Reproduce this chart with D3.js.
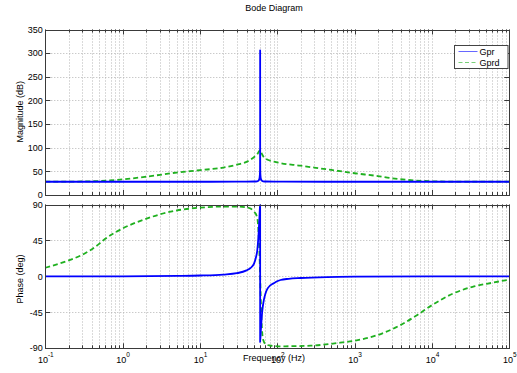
<!DOCTYPE html>
<html>
<head>
<meta charset="utf-8">
<script src="https://cdn.jsdelivr.net/npm/d3@7"></script>
<style>
  body { margin: 0; background: #fff; }
  svg text { font-family: "Liberation Sans", Arial, sans-serif; font-size: 9px; fill: #000; }
</style>
</head>
<body>
<svg id="chart" width="517" height="373"></svg>
<script>
// ---- data ---------------------------------------------------------------
const titleText = "Bode Diagram";
const seriesNames = ["Gpr", "Gprd"];
const decadeTicks = [0.1, 1, 10, 100, 1000, 10000, 100000];
const decadeExponents = ["-1", "0", "1", "2", "3", "4", "5"];
const magTicks = [0, 50, 100, 150, 200, 250, 300, 350];
const phaseTicks = [-90, -45, 0, 45, 90];

// [frequency (Hz), magnitude (dB)]
const gprMag = [
  [0.1, 28], [10, 28], [30, 28.1], [50, 28.5], [55, 29], [57.5, 31], [59, 36],
  [59.8, 50], [59.97, 100], [60, 306], [60.03, 100], [60.2, 50], [61, 36],
  [62.6, 31], [65.5, 29], [72, 28.5], [120, 28.1], [400, 28], [100000, 28]
];
const gprdMag = [
  [0.1, 28.1], [0.2, 28.3], [0.5, 29.5], [1, 33], [2, 38.6], [5, 47.5],
  [10, 52.5], [20, 58], [30, 64], [40, 70], [50, 80], [56, 88], [60, 95],
  [64, 85], [70, 77], [100, 69], [200, 62], [500, 53], [1000, 46],
  [2000, 40], [3000, 35.5], [5000, 31.7], [10000, 29], [20000, 28.3],
  [100000, 28.1]
];

// [frequency (Hz), phase (deg)]
const gprPhase = [
  [0.1, 0], [1, 0.1], [5, 0.6], [10, 1.1], [20, 2.3], [30, 4], [40, 7.5],
  [45, 10.5], [50, 16], [53, 24], [55, 32], [57, 50], [58.5, 70], [59.5, 85],
  [60, 90], [60.02, -82], [61, -70], [62.5, -55], [64, -43], [66, -33],
  [70, -22], [75, -15], [90, -8.5], [110, -4.5], [140, -3], [200, -2],
  [440, -0.8], [1000, -0.35], [10000, 0], [100000, 0]
];
const gprdPhase = [
  [0.1, 10.8], [0.2, 20], [0.3, 27], [0.5, 41], [0.56, 45], [1, 60],
  [2, 72], [3, 77.5], [5, 82.5], [10, 86], [20, 87.5], [30, 87.5],
  [40, 86.5], [45, 85], [50, 81], [54, 76], [56, 68], [57.5, 50], [59, 25],
  [60, 0], [61, -25], [62.5, -55], [64, -72], [66, -80], [70, -84.5],
  [80, -86.5], [110, -87.5], [270, -86.7], [650, -83], [1060, -80],
  [1900, -74], [3900, -61], [6300, -49], [10000, -36], [18500, -21.7],
  [33500, -13], [60000, -8], [100000, -4]
];

// ---- layout -------------------------------------------------------------
const svg = d3.select("#chart");
const left = 45.3, right = 509.3;
const magPanel = { top: 29.5, bottom: 195 };
const phasePanel = { top: 204.5, bottom: 348.3 };

const x = d3.scaleLog().domain([0.1, 100000]).range([left, right]);
const yMag = d3.scaleLinear().domain([0, 350]).range([magPanel.bottom, magPanel.top]);
const yPhase = d3.scaleLinear().domain([-90, 90]).range([phasePanel.bottom, phasePanel.top]);

const blue = "#0000ff";
const green = "#1fb01f";
const gridColor = "#b4b4b4";
const boxColor = "#3a3a3a";

// minor tick positions 2..9 within each decade
const minorTicks = [];
decadeTicks.slice(0, -1).forEach(d => {
  for (let k = 2; k <= 9; k++) minorTicks.push(d * k);
});

function drawPanel(panel, yScale, yTicks, name, seriesPairs) {
  const g = svg.append("g");
  const h = panel.bottom - panel.top;

  g.append("clipPath").attr("id", "clip-" + name)
    .append("rect").attr("x", left).attr("y", panel.top)
    .attr("width", right - left).attr("height", h);

  // grid: vertical (minor + major) and horizontal
  g.append("g").selectAll("line").data(minorTicks.concat(decadeTicks)).join("line")
    .attr("x1", d => Math.round(x(d)) + 0.5).attr("x2", d => Math.round(x(d)) + 0.5)
    .attr("y1", panel.top).attr("y2", panel.bottom)
    .attr("stroke", gridColor).attr("stroke-width", 1)
    .attr("stroke-dasharray", "1,2");
  g.append("g").selectAll("line").data(yTicks).join("line")
    .attr("x1", left).attr("x2", right)
    .attr("y1", d => Math.round(yScale(d)) + 0.5).attr("y2", d => Math.round(yScale(d)) + 0.5)
    .attr("stroke", gridColor).attr("stroke-width", 1)
    .attr("stroke-dasharray", "1,2");

  // inward tick marks on all four sides
  const tg = g.append("g").attr("stroke", boxColor).attr("stroke-width", 1);
  const xt = decadeTicks.map(d => ({ v: d, len: 5 })).concat(minorTicks.map(d => ({ v: d, len: 3 })));
  xt.forEach(t => {
    const px = Math.round(x(t.v)) + 0.5;
    tg.append("line").attr("x1", px).attr("x2", px).attr("y1", panel.bottom).attr("y2", panel.bottom - t.len);
    tg.append("line").attr("x1", px).attr("x2", px).attr("y1", panel.top).attr("y2", panel.top + t.len);
  });
  yTicks.forEach(v => {
    const py = Math.round(yScale(v)) + 0.5;
    tg.append("line").attr("x1", left).attr("x2", left + 5).attr("y1", py).attr("y2", py);
    tg.append("line").attr("x1", right).attr("x2", right - 5).attr("y1", py).attr("y2", py);
  });

  // y tick labels
  g.append("g").selectAll("text").data(yTicks).join("text")
    .attr("x", left - 2.5).attr("y", d => yScale(d)).attr("dy", "0.35em")
    .attr("text-anchor", "end").text(d => d);

  // series
  const line = d3.line()
    .x(d => x(d[0])).y(d => yScale(d[1]))
    .curve(d3.curveMonotoneX);
  const lg = g.append("g").attr("clip-path", "url(#clip-" + name + ")");
  lg.append("path").datum(seriesPairs[1])
    .attr("d", line).attr("fill", "none")
    .attr("stroke", green).attr("stroke-width", 1.8)
    .attr("stroke-dasharray", "5,3");
  lg.append("path").datum(seriesPairs[0])
    .attr("d", line).attr("fill", "none")
    .attr("stroke", blue).attr("stroke-width", 1.8)
    .attr("stroke-linejoin", "round");

  // axes box
  g.append("rect")
    .attr("x", Math.round(left) + 0.5).attr("y", Math.round(panel.top) + 0.5)
    .attr("width", Math.round(right) - Math.round(left))
    .attr("height", Math.round(panel.bottom) - Math.round(panel.top))
    .attr("fill", "none").attr("stroke", boxColor).attr("stroke-width", 1);
  return g;
}

drawPanel(magPanel, yMag, magTicks, "mag", [gprMag, gprdMag]);
drawPanel(phasePanel, yPhase, phaseTicks, "phase", [gprPhase, gprdPhase]);

// x tick labels (powers of ten) under the phase panel
const xl = svg.append("g").selectAll("text").data(decadeTicks).join("text")
  .attr("x", d => x(d) + 0.5).attr("y", 362.7).attr("text-anchor", "middle");
xl.append("tspan").text("10");
xl.append("tspan").attr("dy", -5.5).attr("font-size", "6.5px").text((d, i) => decadeExponents[i]);

// titles
svg.append("text").attr("x", 274).attr("y", 10.5).attr("text-anchor", "middle").text(titleText);
svg.append("text").attr("x", 274).attr("y", 361).attr("text-anchor", "middle").text("Frequency  (Hz)");
svg.append("text").attr("transform", "translate(23,111.7) rotate(-90)")
  .attr("text-anchor", "middle").text("Magnitude (dB)");
svg.append("text").attr("transform", "translate(23,279) rotate(-90)")
  .attr("text-anchor", "middle").text("Phase (deg)");

// legend
const legend = svg.append("g");
legend.append("rect").attr("x", 454.5).attr("y", 45.5).attr("width", 53.5).attr("height", 23)
  .attr("fill", "#fff").attr("stroke", "#444").attr("stroke-width", 1);
const legendRows = [
  { name: seriesNames[0], color: blue, dash: null, y: 51.5 },
  { name: seriesNames[1], color: green, dash: "4,2.5", y: 62.5 }
];
legendRows.forEach(r => {
  legend.append("line").attr("x1", 458.5).attr("x2", 477.5).attr("y1", r.y).attr("y2", r.y)
    .attr("stroke", r.color).attr("stroke-width", 0.8).attr("stroke-opacity", 0.75)
    .attr("stroke-dasharray", r.dash);
  legend.append("text").attr("x", 479.5).attr("y", r.y).attr("dy", "0.35em").text(r.name);
});
</script>
</body>
</html>
